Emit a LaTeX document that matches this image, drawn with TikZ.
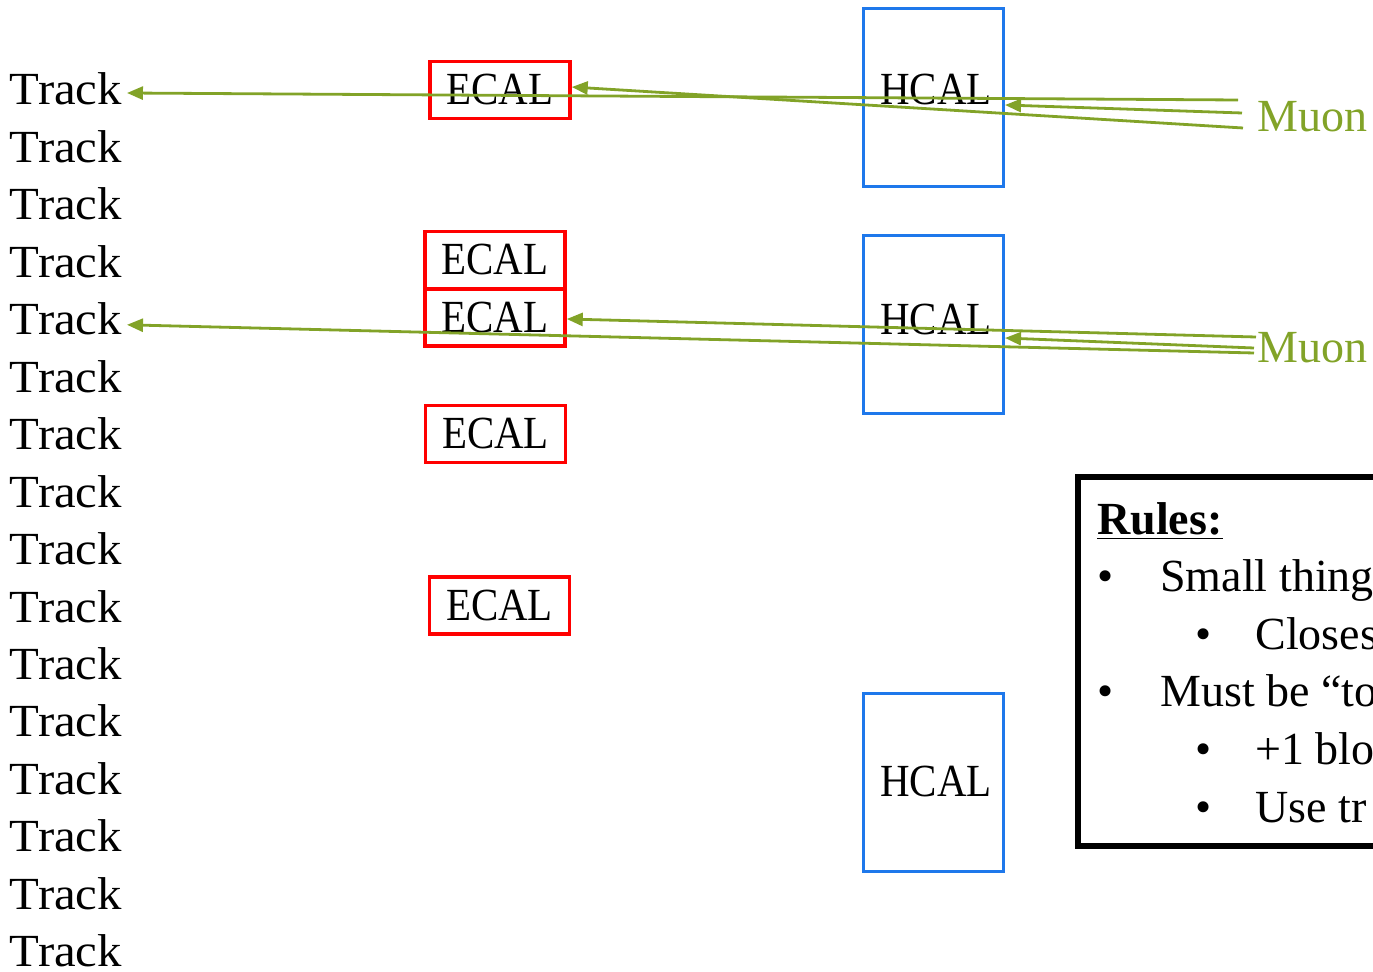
\documentclass[tikz,border=0pt]{standalone}
\usepackage{fontspec}
\setmainfont{Liberation Serif}
\newfontfamily\boxfont[FakeStretch=0.89]{Liberation Serif}
\newfontfamily\trackfont[FakeStretch=1.06]{Liberation Serif}
\usetikzlibrary{arrows.meta,calc}
\definecolor{ecalred}{RGB}{255,0,0}
\definecolor{hcalblue}{RGB}{30,120,235}
\definecolor{muongreen}{RGB}{130,163,40}
\begin{document}
\begin{tikzpicture}[x=0.5pt,y=-0.5pt,
  txt/.style={font=\fontsize{23pt}{27pt}\selectfont, inner sep=0pt},
  boxtxt/.style={font=\boxfont\fontsize{23pt}{27pt}\selectfont, inner sep=0pt},
  track/.style={font=\trackfont\fontsize{23pt}{27pt}\selectfont, inner sep=0pt, anchor=base west, outer xsep=2.5pt},
  ecal/.style={boxtxt, draw=ecalred, line width=1.75pt, minimum width=70pt, minimum height=28.5pt},
  hcal/.style={draw=hcalblue, line width=1.5pt, minimum width=70pt, minimum height=89pt, inner sep=0pt},
  mu/.style={draw=muongreen, line width=1.4pt, -{Triangle[length=8pt,width=6.5pt]}},
  bul/.style={txt, anchor=base},
  item/.style={txt, anchor=base west}]
\useasboundingbox (0,0) rectangle (1373,972);
\clip (0,0) rectangle (1373,972);

% track column
\foreach \i in {1,...,16}
  \node[track] (t\i) at (5,{105+(\i-1)*57.45}) {Track};

% ECAL cells
\node[ecal] (e1) at (500,90) {ECAL};
\node[ecal] (e2) at (495,260) {ECAL};
\node[ecal] (e3) at (495,317.5) {ECAL};
\node[ecal] (e4) at (495.5,434) {ECAL};
\node[ecal] (e5) at (499.5,605.5) {ECAL};

% HCAL cells
\node[hcal] (h1) at (933.5,97.5) {};
\node[hcal] (h2) at (933.5,324.5) {};
\node[hcal] (h3) at (933.5,782.5) {};
\node[boxtxt, anchor=base] (h1t) at (936,105) {HCAL};
\node[boxtxt, anchor=base] (h2t) at (936,335) {HCAL};
\node[boxtxt, anchor=base] (h3t) at (936,797) {HCAL};

% muon labels
\node[txt, anchor=base west, text=muongreen] (m1) at (1257,132) {Muon};
\node[txt, anchor=base west, text=muongreen] (m2) at (1257,363) {Muon};

% rules panel
\draw[line width=3pt] (1077.5,477.5) rectangle (1500,846);
\node[item] (rt) at (1097,535) {\bfseries\underline{Rules:}};
\node[bul] (b1) at (1106,592) {•};
\node[item] (r1) at (1160,592) {Small thing};
\node[bul] (b2) at (1204,650) {•};
\node[item] (r2) at (1255,650) {Closes};
\node[bul] (b3) at (1106,707) {•};
\node[item] (r3) at (1160,707) {Must be “to};
\node[bul] (b4) at (1204,765) {•};
\node[item] (r4) at (1255,765) {+1 blo};
\node[bul] (b5) at (1204,823) {•};
\node[item] (r5) at (1255,823) {Use tr};

% muon track links
\coordinate (m1a) at (1238,100);
\coordinate (m1b) at (1242,113);
\coordinate (m1c) at (1243,128);
\coordinate (m2a) at (1256,337);
\coordinate (m2b) at (1254,348);
\coordinate (m2c) at (1254,353);

\draw[mu] (m1a) -- ($(t1.base east)+(0,-12)$);
\draw[mu] (m1b) -- ($(h1.east)+(0,7.5)$);
\draw[mu] (m1c) -- ($(e1.east)+(0,-3)$);
\draw[mu] (m2a) -- ($(e3.east)+(0,1.5)$);
\draw[mu] (m2b) -- ($(h2.east)+(0,13.5)$);
\draw[mu] (m2c) -- ($(t5.base east)+(0,-10)$);
\end{tikzpicture}
\end{document}
